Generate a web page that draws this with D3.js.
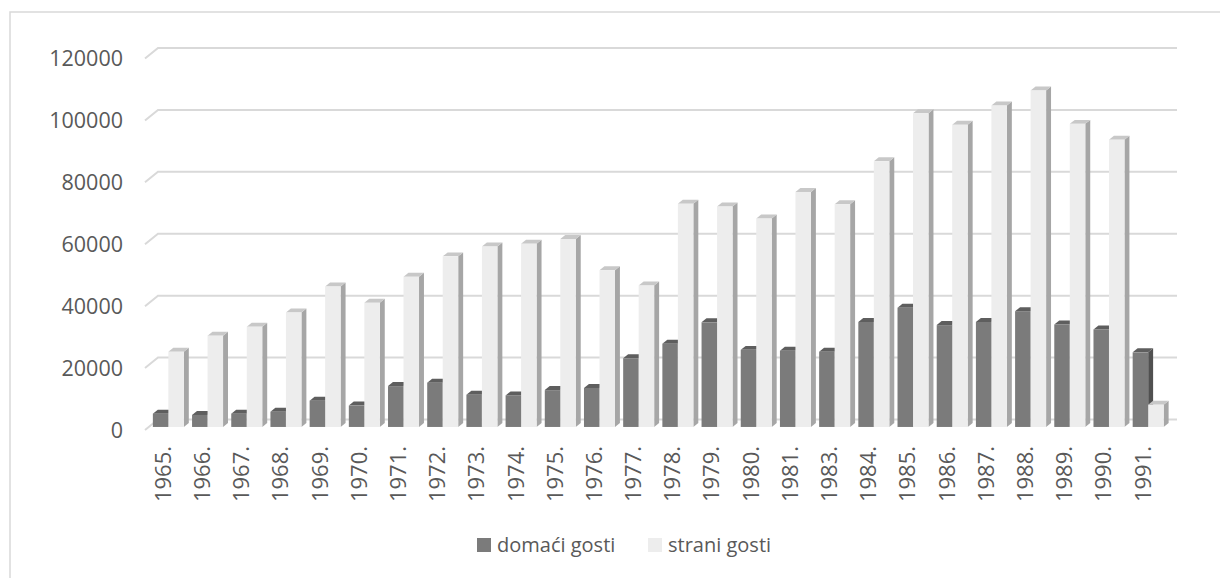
<!DOCTYPE html>
<html lang="hr">
<head>
    <meta charset="UTF-8">
    <script type="text/javascript" src="https://d3js.org/d3.v7.min.js"></script>
    <title>domaći i strani gosti</title>
    <style>
        body { margin: 0; background: #fff; }
        text { font-family: "Open Sans", sans-serif; fill: #595959; }
    </style>
</head>
<body>
    <svg></svg>
    <script>
        const years = ['1965.', '1966.', '1967.', '1968.', '1969.', '1970.', '1971.', '1972.', '1973.',
            '1974.', '1975.', '1976.', '1977.', '1978.', '1979.', '1980.', '1981.', '1983.', '1984.',
            '1985.', '1986.', '1987.', '1988.', '1989.', '1990.', '1991.'];
        const domaci = [4300, 3900, 4300, 4900, 8500, 6900, 13200, 14300, 10400, 10200, 11900, 12600, 22200,
            26900, 33800, 24900, 24600, 24300, 33900, 38500, 32900, 33900, 37400, 33100, 31500, 24100];
        const strani = [24300, 29500, 32400, 37000, 45400, 40100, 48500, 55100, 58300, 59200, 60700, 50600, 45700,
            72100, 71200, 67300, 75900, 71900, 85800, 101300, 97600, 103800, 108700, 97900, 92800, 7200];
        const yTicks = [0, 20000, 40000, 60000, 80000, 100000, 120000];
        const seriesNames = ['domaći gosti', 'strani gosti'];

        let svg = d3.select('svg')
            .attr('width', 1220)
            .attr('height', 578);

        // okvir (vidi se samo lijevo i gore)
        svg.append('rect')
            .attr('x', 10).attr('y', 12)
            .attr('width', 1230).attr('height', 600)
            .attr('fill', 'none').attr('stroke', '#d9d9d9').attr('stroke-width', 1.5);

        // prednja ravnina + vektor dubine (3D)
        const x = d3.scaleBand().domain(years).range([145, 1164]);
        const y = d3.scaleLinear().domain([0, 120000]).range([430, 58.5]);
        const depth = [13, -10.5];
        const f0 = 0.29, f1 = 0.67;   // prednja i stražnja strana stupca
        const dx0 = depth[0] * f0, dy0 = depth[1] * f0;
        const bdx = depth[0] * (f1 - f0), bdy = depth[1] * (f1 - f0);

        const sub = d3.scaleBand().domain([0, 1]).range([-15.5, 15.5]);

        const colors = [
            { front: '#7b7b7b', top: '#5e5e5e', side: '#505050' },
            { front: '#ededed', top: '#c8c8c8', side: '#a6a6a6' }
        ];

        // mreža na stražnjem i lijevom zidu
        let grid = svg.append('g').attr('class', 'grid');
        grid.selectAll('polyline')
            .data(yTicks)
            .enter()
            .append('polyline')
            .attr('points', function(d) {
                let x0 = x.range()[0], x1 = x.range()[1];
                return `${x0},${y(d)} ${x0 + depth[0]},${y(d) + depth[1]} ${x1 + depth[0]},${y(d) + depth[1]}`;
            })
            .attr('fill', 'none')
            .attr('stroke', '#d9d9d9')
            .attr('stroke-width', 2);

        // oznake y osi
        svg.append('g')
            .selectAll('text')
            .data(yTicks)
            .enter()
            .append('text')
            .attr('x', 123)
            .attr('y', d => y(d))
            .attr('dy', '0.35em')
            .attr('text-anchor', 'end')
            .style('font-size', '21.5px')
            .text(d => d);

        // stupci
        let bars = svg.append('g').attr('class', 'bars');
        years.forEach(function(yr, i) {
            [domaci[i], strani[i]].forEach(function(v, s) {
                let cx = x(yr) + x.bandwidth() / 2 + dx0;
                let xa = cx + sub(s), xb = xa + sub.bandwidth();
                let yb = y(0) + dy0, yt = y(v) + dy0;
                let g = bars.append('g');
                g.append('polygon')
                    .attr('points', `${xb},${yt} ${xb + bdx},${yt + bdy} ${xb + bdx},${yb + bdy} ${xb},${yb}`)
                    .attr('fill', colors[s].side);
                g.append('polygon')
                    .attr('points', `${xa},${yt} ${xb},${yt} ${xb + bdx},${yt + bdy} ${xa + bdx},${yt + bdy}`)
                    .attr('fill', colors[s].top);
                g.append('rect')
                    .attr('x', xa).attr('y', yt)
                    .attr('width', xb - xa).attr('height', yb - yt)
                    .attr('fill', colors[s].front);
            });
        });

        // oznake x osi (okomito)
        svg.append('g')
            .selectAll('text')
            .data(years)
            .enter()
            .append('text')
            .attr('transform', d => `translate(${x(d) + x.bandwidth() / 2 - 1.5},446) rotate(-90)`)
            .attr('dy', '0.35em')
            .attr('text-anchor', 'end')
            .style('font-size', '22px')
            .text(d => d);

        // legenda
        const legendX = [477, 648];
        let legend = svg.append('g').attr('class', 'legend');
        seriesNames.forEach(function(name, s) {
            legend.append('rect')
                .attr('x', legendX[s]).attr('y', 538)
                .attr('width', 14).attr('height', 14)
                .attr('fill', colors[s].front);
            legend.append('text')
                .attr('x', legendX[s] + 20).attr('y', 545)
                .attr('dy', '0.35em')
                .style('font-size', '20px')
                .text(name);
        });
    </script>
</body>
</html>
